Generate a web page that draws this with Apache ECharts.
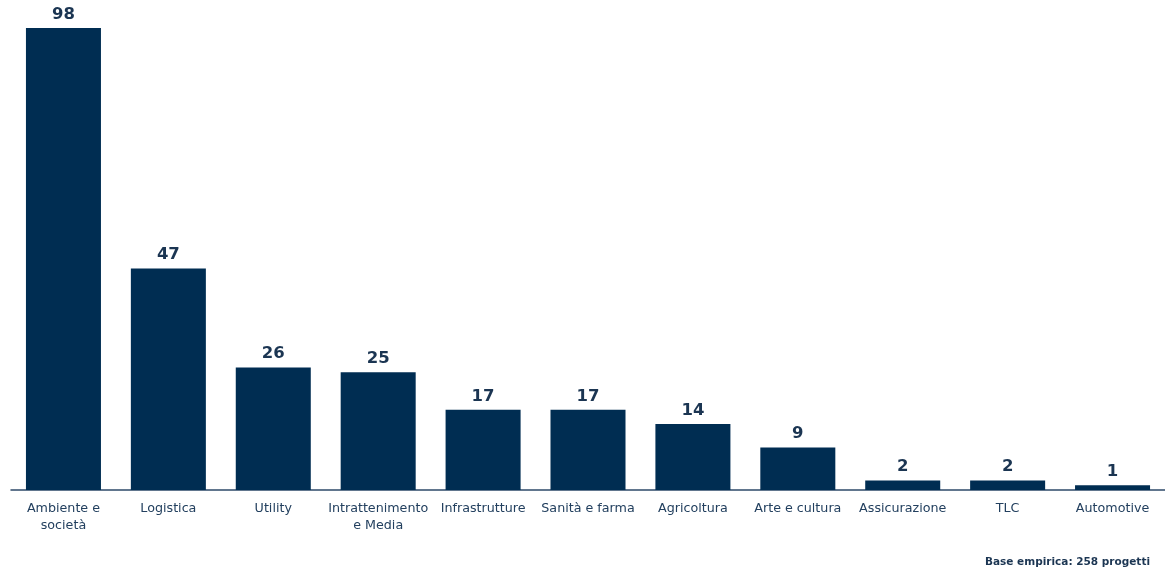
<!DOCTYPE html>
<html>
<head>
<meta charset="utf-8">
<script src="https://cdn.jsdelivr.net/npm/echarts@6/dist/echarts.min.js"></script>
<style>
  html, body { margin: 0; padding: 0; background: #ffffff; }
  #chart { width: 1165px; height: 573px; }
</style>
</head>
<body>
<div id="chart"></div>
<script>
// Progetti per settore
const categories = [
  'Ambiente e\nsocietà', 'Logistica', 'Utility', 'Intrattenimento\ne Media',
  'Infrastrutture', 'Sanità e farma', 'Agricoltura', 'Arte e cultura',
  'Assicurazione', 'TLC', 'Automotive'
];
const values = [98, 47, 26, 25, 17, 17, 14, 9, 2, 2, 1];
const footnote = 'Base empirica: 258 progetti';

const FONT = 'DejaVu Sans';
const chart = echarts.init(document.getElementById('chart'), null, { renderer: 'canvas' });

chart.setOption({
  animation: false,
  backgroundColor: '#ffffff',
  grid: { left: 11, right: 0, top: 28, bottom: 83, containLabel: false },
  xAxis: {
    type: 'category',
    data: categories,
    axisTick: { show: false },
    axisLine: { lineStyle: { color: '#2E4A6A', width: 1.5 } },
    axisLabel: {
      interval: 0,
      color: '#23405F',
      fontFamily: FONT,
      fontSize: 12.7,
      lineHeight: 17,
      margin: 10
    }
  },
  yAxis: {
    type: 'value',
    min: 0,
    max: 98,
    show: false,
    splitLine: { show: false }
  },
  series: [{
    type: 'bar',
    data: values,
    barWidth: '71.5%',
    itemStyle: { color: '#002D52' },
    label: {
      show: true,
      position: 'top',
      distance: 5,
      color: '#1B3552',
      fontFamily: FONT,
      fontWeight: 'bold',
      fontSize: 16.5
    }
  }],
  graphic: [{
    type: 'text',
    right: 15,
    top: 557,
    style: {
      text: footnote,
      fill: '#1B3552',
      font: 'bold 10.5px "' + FONT + '"'
    }
  }]
});
</script>
</body>
</html>
